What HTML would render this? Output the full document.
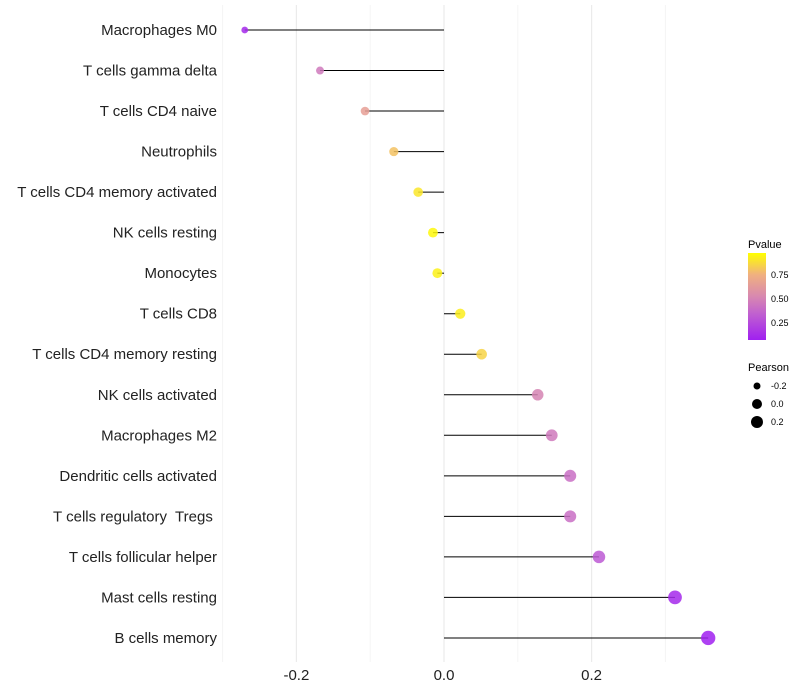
<!DOCTYPE html>
<html><head><meta charset="utf-8"><style>
html,body{margin:0;padding:0;background:#fff;}
svg{display:block;font-family:"Liberation Sans",Arial,sans-serif;}
</style></head><body>
<svg id="chart" width="800" height="700">
<defs><linearGradient id="pg" x1="0" y1="1" x2="0" y2="0">
<stop offset="0" stop-color="#a020f0"/><stop offset="0.3" stop-color="#c060d0"/><stop offset="0.5" stop-color="#d888b0"/><stop offset="0.75" stop-color="#f0b080"/><stop offset="1" stop-color="#ffff00"/></linearGradient></defs>
<g id="grid"></g>
<g id="marks"></g>
<g id="ylabels"></g>
<g id="xlabels"></g>
<g>
<text x="748" y="248" font-size="11">Pvalue</text>
<rect x="748" y="253" width="18" height="87" fill="url(#pg)"/>
<text x="771" y="278" font-size="9">0.75</text>
<text x="771" y="302" font-size="9">0.50</text>
<text x="771" y="326" font-size="9">0.25</text>
</g>
<g>
<text x="748" y="371" font-size="11">Pearson</text>
<circle cx="757" cy="386" r="3.5" fill="#000"/>
<text x="771" y="389" font-size="9">-0.2</text>
<circle cx="757" cy="404" r="5" fill="#000"/>
<text x="771" y="407" font-size="9">0.0</text>
<circle cx="757" cy="422" r="6" fill="#000"/>
<text x="771" y="425" font-size="9">0.2</text>
</g>
</svg>
<script>
const categories=["Macrophages M0","T cells gamma delta","T cells CD4 naive","Neutrophils","T cells CD4 memory activated","NK cells resting","Monocytes","T cells CD8","T cells CD4 memory resting","NK cells activated","Macrophages M2","Dendritic cells activated","T cells regulatory  Tregs ","T cells follicular helper","Mast cells resting","B cells memory"];
const pearson=[-0.27,-0.168,-0.107,-0.068,-0.035,-0.015,-0.009,0.022,0.051,0.127,0.146,0.171,0.171,0.21,0.313,0.358];
const pvalue=[0.1,0.45,0.65,0.8,0.9,0.95,0.93,0.92,0.85,0.5,0.45,0.4,0.4,0.3,0.1,0.06];
const xTicks=[-0.2,0,0.2];
const xMinor=[-0.3,-0.1,0.1,0.3];
const NS="http://www.w3.org/2000/svg";
function X(v){return 444+v*738;}
function Y(i){return 30+i*40.53;}
function R(v){return Math.max(2,5+v*6);}
function lerp(a,b,t){return a+(b-a)*t;}
const stops=[[0.06,[160,32,240]],[0.33,[192,96,208]],[0.52,[216,136,176]],[0.75,[240,176,128]],[0.97,[255,255,0]]];
function col(p){p=Math.min(Math.max(p,stops[0][0]),stops[4][0]);
for(let i=0;i<4;i++){const a=stops[i],b=stops[i+1];if(p<=b[0]){const t=(p-a[0])/(b[0]-a[0]);
return `rgb(${a[1].map((c,k)=>Math.round(lerp(c,b[1][k],t))).join(',')})`;}}return "rgb(255,255,0)";}
function mk(tag,attrs,parent){const e=document.createElementNS(NS,tag);for(const k in attrs)e.setAttribute(k,attrs[k]);parent.appendChild(e);return e;}
const grid=document.getElementById('grid'),marks=document.getElementById('marks'),yl=document.getElementById('ylabels'),xl=document.getElementById('xlabels');
xMinor.forEach(v=>{const l=mk('line',{x1:X(v),x2:X(v),y1:5,y2:662,stroke:'#f4f4f4','stroke-width':1},grid);

});
xTicks.forEach(v=>{const l=mk('line',{x1:X(v),x2:X(v),y1:5,y2:662,stroke:'#ebebeb','stroke-width':1.2},grid);


const t=mk('text',{x:X(v),y:680,'font-size':15,'text-anchor':'middle',fill:'#222'},xl);t.textContent=v===0?'0.0':v.toFixed(1);

});
categories.forEach((c,i)=>{const y=Y(i);
const ln=mk('line',{x1:X(0),x2:X(pearson[i]),y1:y,y2:y,stroke:'#000','stroke-width':1},marks);


const ci=mk('circle',{cx:X(pearson[i]),cy:y,r:R(pearson[i]),fill:col(pvalue[i]),'fill-opacity':0.85},marks);


const t=mk('text',{x:217,y:y+5,'font-size':15,'text-anchor':'end',fill:'#222'},yl);t.textContent=c;t.setAttribute('xml:space','preserve');t.style.whiteSpace='pre';

});
</script>
</body></html>
